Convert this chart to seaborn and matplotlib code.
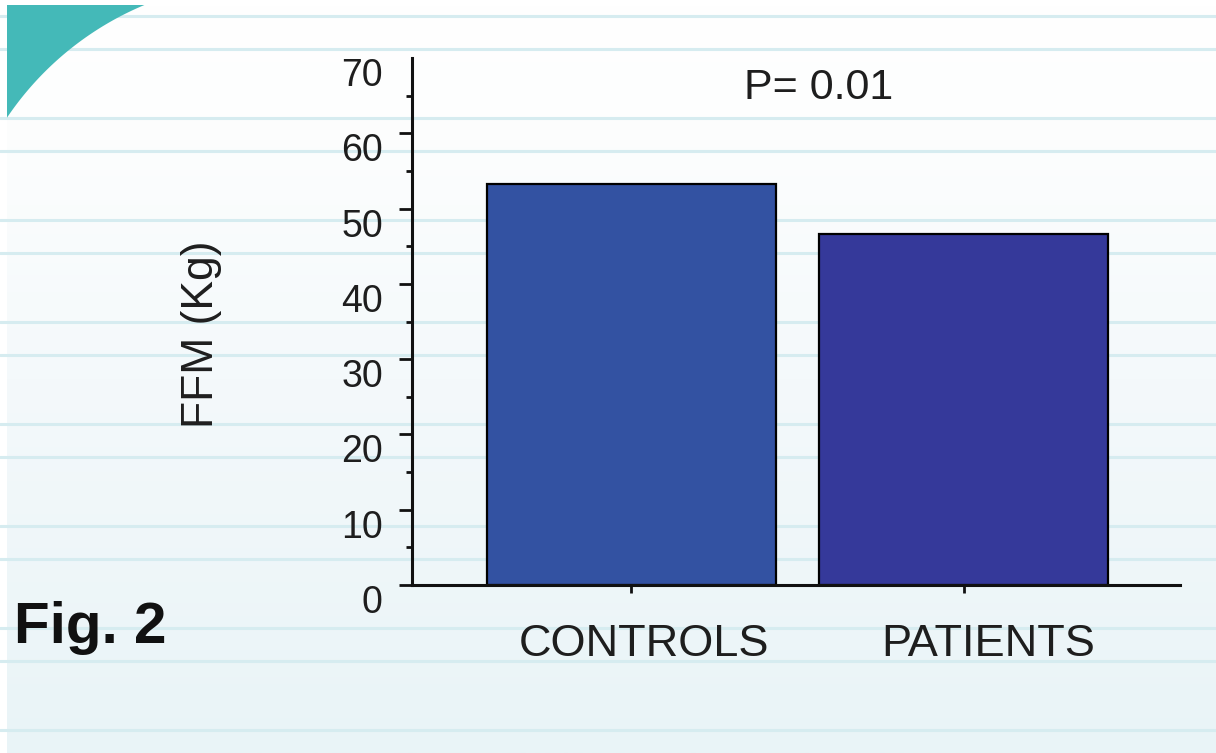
import numpy as np
import pandas as pd
import matplotlib
matplotlib.use("Agg")
import matplotlib.pyplot as plt
from matplotlib.colors import LinearSegmentedColormap
from matplotlib.patches import Polygon
from matplotlib.ticker import MultipleLocator
from matplotlib.transforms import ScaledTranslation
import seaborn as sns

# data
GROUPS = ["CONTROLS", "PATIENTS"]
FFM_KG = [53.3, 46.6]
BAR_COLORS = ["#3352A2", "#35399A"]
Y_TICKS = [0, 10, 20, 30, 40, 50, 60, 70]
P_TEXT = "P= 0.01"

W, H = 1216, 753
TEXT = "#1e1e1e"

sns.set_style("white")
plt.rcParams["font.family"] = ["Liberation Sans", "DejaVu Sans"]

fig = plt.figure(figsize=(W / 100, H / 100), dpi=100)
fig.patch.set_facecolor("white")

# slide background: soft gradient, ruled lines, teal corner
bg = fig.add_axes([0, 0, 1, 1])
bg.set_xlim(0, W)
bg.set_ylim(H, 0)
bg.axis("off")
grad_cmap = LinearSegmentedColormap.from_list(
    "bg", [(0, "#ffffff"), (0.15, "#fdfefe"), (0.5, "#f4f9fb"), (1, "#e9f4f7")])
grad = np.linspace(0, 1, 256).reshape(-1, 1)
bg.imshow(grad, cmap=grad_cmap, extent=[7, W, H, 5], aspect="auto",
          origin="upper", zorder=0, interpolation="bilinear")
for k in range(8):
    for off in (0, 33):
        y = 16 + 102 * k + off
        if y < H:
            bg.axhline(y, color="#d6ecf0", lw=2.2, zorder=1)
cx, cy, r = 264, 291, 310
a0 = np.arctan2(5 - cy, 144.4 - cx)
a1 = np.arctan2(117.6 - cy, 7 - cx)
ang = np.linspace(a0, a1, 80)
arc = np.column_stack([cx + r * np.cos(ang), cy + r * np.sin(ang)])
corner = np.vstack([[7, 5], arc, [7, 117.6]])
bg.add_patch(Polygon(corner, closed=True, color="#44b9b8", lw=0, zorder=2))

fig.text(14 / W, 1 - 643 / H, "Fig. 2", fontsize=42, fontweight="bold",
         color="#111111", ha="left", va="baseline")

# bar chart
ax = fig.add_axes([412 / W, 1 - 585 / H, 768 / W, 527 / H])
ax.patch.set_alpha(0)
df = pd.DataFrame({"group": GROUPS, "ffm": FFM_KG})
sns.barplot(data=df, x="group", y="ffm", hue="group", palette=BAR_COLORS,
            legend=False, width=0.873, edgecolor="black", linewidth=1.6,
            saturation=1, ax=ax)

ax.set_xlim(-0.661, 1.652)
ax.set_ylim(0, 70)
ax.set_yticks(Y_TICKS)
ax.yaxis.set_minor_locator(MultipleLocator(5))
for s in ("top", "right"):
    ax.spines[s].set_visible(False)
for s in ("left", "bottom"):
    ax.spines[s].set_linewidth(2.2)
    ax.spines[s].set_color("#111111")

ax.tick_params(axis="y", which="major", direction="out", length=9.5, width=2,
               color="#111111", labelsize=27, labelcolor=TEXT, pad=11.5, left=True)
ax.tick_params(axis="y", which="minor", direction="out", length=4.5, width=2,
               color="#111111", left=True)
ax.tick_params(axis="x", which="major", direction="out", length=6, width=2,
               color="#111111", labelsize=32.5, labelcolor=TEXT, pad=22, bottom=True)
ax.yaxis.get_major_ticks()[-1].tick1line.set_visible(False)
for lab in ax.get_yticklabels():
    lab.set_verticalalignment("top")

# category labels sit a little right of their bars in the original
for lab, dx in zip(ax.get_xticklabels(), (13, 25)):
    lab.set_transform(lab.get_transform() +
                      ScaledTranslation(dx / 100, 0, fig.dpi_scale_trans))

ax.set_xlabel("")
ax.set_ylabel("FFM (Kg)", fontsize=32, color=TEXT)
ax.yaxis.set_label_coords(-0.247, 0.476)

ax.text(0.529, 0.943, P_TEXT, transform=ax.transAxes, ha="center",
        va="center", fontsize=31, color=TEXT)

fig.savefig("out.png", dpi=100)
